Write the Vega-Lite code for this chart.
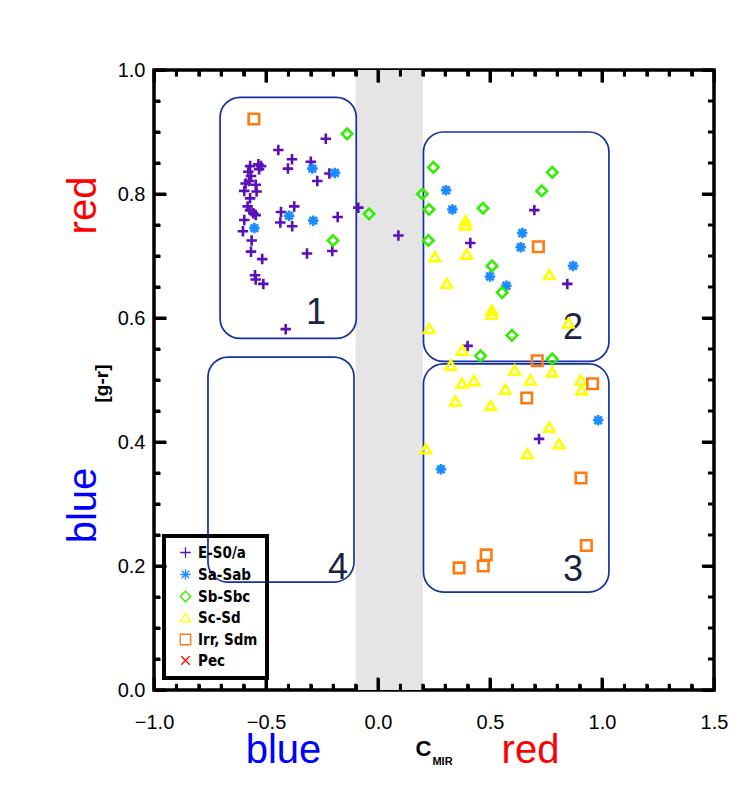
{
  "$schema": "https://vega.github.io/schema/vega-lite/v6.json",
  "width": 560,
  "height": 620,
  "autosize": {"type": "none"},
  "padding": {"left": 154, "top": 70, "right": 39, "bottom": 97},
  "background": "white",
  "config": {
    "view": {"stroke": "black", "strokeWidth": 3.5},
    "axis": {"grid": false, "labelColor": "black", "titleColor": "black", "titleAlign": "center", "titleBaseline": "alphabetic", "titleFont": "Liberation Sans", "titleFontWeight": "normal", "labelFont": "Liberation Sans", "labelFlush": false, "labelOverlap": false},
    "legend": {"strokeColor": "black", "strokeWidth": 4}
  },
  "datasets": {
    "xticks": [
      {"v": -1, "kind": "major"}, {"v": -0.9, "kind": "minor"}, {"v": -0.8, "kind": "minor"}, {"v": -0.7, "kind": "minor"}, {"v": -0.6, "kind": "minor"},
      {"v": -0.5, "kind": "major"}, {"v": -0.4, "kind": "minor"}, {"v": -0.3, "kind": "minor"}, {"v": -0.2, "kind": "minor"}, {"v": -0.1, "kind": "minor"},
      {"v": 0, "kind": "major"}, {"v": 0.1, "kind": "minor"}, {"v": 0.2, "kind": "minor"}, {"v": 0.3, "kind": "minor"}, {"v": 0.4, "kind": "minor"},
      {"v": 0.5, "kind": "major"}, {"v": 0.6, "kind": "minor"}, {"v": 0.7, "kind": "minor"}, {"v": 0.8, "kind": "minor"}, {"v": 0.9, "kind": "minor"},
      {"v": 1, "kind": "major"}, {"v": 1.1, "kind": "minor"}, {"v": 1.2, "kind": "minor"}, {"v": 1.3, "kind": "minor"}, {"v": 1.4, "kind": "minor"},
      {"v": 1.5, "kind": "major"}
    ],
    "yticks": [
      {"v": 0, "kind": "major"}, {"v": 0.05, "kind": "minor"}, {"v": 0.1, "kind": "minor"}, {"v": 0.15, "kind": "minor"},
      {"v": 0.2, "kind": "major"}, {"v": 0.25, "kind": "minor"}, {"v": 0.3, "kind": "minor"}, {"v": 0.35, "kind": "minor"},
      {"v": 0.4, "kind": "major"}, {"v": 0.45, "kind": "minor"}, {"v": 0.5, "kind": "minor"}, {"v": 0.55, "kind": "minor"},
      {"v": 0.6, "kind": "major"}, {"v": 0.65, "kind": "minor"}, {"v": 0.7, "kind": "minor"}, {"v": 0.75, "kind": "minor"},
      {"v": 0.8, "kind": "major"}, {"v": 0.85, "kind": "minor"}, {"v": 0.9, "kind": "minor"}, {"v": 0.95, "kind": "minor"},
      {"v": 1, "kind": "major"}
    ]
  },
  "resolve": {"axis": {"x": "independent", "y": "independent"}},
  "layer": [
    {
      "data": {"values": [{"x0": -0.1, "x1": 0.2, "y0": 0, "y1": 1}]},
      "mark": {"type": "rect", "color": "#e5e5e5"},
      "encoding": {
        "x": {"field": "x0", "type": "quantitative", "scale": {"domain": [-1, 1.5], "nice": false, "zero": false},
          "axis": {"orient": "bottom", "values": [-1, -0.5, 0, 0.5, 1, 1.5], "offset": -12, "ticks": true, "tickSize": 12, "tickWidth": 3, "tickColor": "#000000", "domain": false, "zindex": 1,
            "labelExpr": "replace(format(datum.value, '.1f'), '-', '−')", "labelFontSize": 20, "labelPadding": 22,
            "title": "C", "titleFontSize": 22, "titleFontWeight": "bold", "titleX": 269, "titleY": 77, "titleAngle": 0}},
        "x2": {"field": "x1"},
        "y": {"field": "y0", "type": "quantitative", "scale": {"domain": [0, 1], "nice": false, "zero": false},
          "axis": {"orient": "left", "values": [0, 0.2, 0.4, 0.6, 0.8, 1], "offset": -12, "ticks": true, "tickSize": 12, "tickWidth": 3, "tickColor": "#000000", "domain": false, "zindex": 1,
            "labelExpr": "format(datum.value, '.1f')", "labelFontSize": 20, "labelPadding": 9,
            "title": "[g-r]", "titleFontSize": 19, "titleFontWeight": "bold", "titleAngle": -90, "titleX": -59, "titleY": 313}},
        "y2": {"field": "y1"}
      }
    },
    {
      "data": {"name": "xticks"},
      "transform": [{"filter": "datum.kind == 'major'"}],
      "mark": {"type": "rule", "color": "#000000", "strokeWidth": 3},
      "encoding": {"x": {"field": "v", "type": "quantitative", "axis": null}, "y": {"datum": 0, "type": "quantitative", "axis": null}, "y2": {"datum": 0.02}}
    },
    {
      "data": {"name": "xticks"},
      "transform": [{"filter": "datum.kind == 'minor'"}],
      "mark": {"type": "rule", "color": "#000000", "strokeWidth": 3},
      "encoding": {"x": {"field": "v", "type": "quantitative", "axis": null}, "y": {"datum": 0, "type": "quantitative", "axis": null}, "y2": {"datum": 0.01}}
    },
    {
      "data": {"name": "xticks"},
      "transform": [{"filter": "datum.kind == 'major'"}],
      "mark": {"type": "rule", "color": "#000000", "strokeWidth": 3},
      "encoding": {"x": {"field": "v", "type": "quantitative", "axis": null}, "y": {"datum": 1, "type": "quantitative", "axis": null}, "y2": {"datum": 0.98}}
    },
    {
      "data": {"name": "xticks"},
      "transform": [{"filter": "datum.kind == 'minor'"}],
      "mark": {"type": "rule", "color": "#000000", "strokeWidth": 3},
      "encoding": {"x": {"field": "v", "type": "quantitative", "axis": null}, "y": {"datum": 1, "type": "quantitative", "axis": null}, "y2": {"datum": 0.99}}
    },
    {
      "data": {"name": "yticks"},
      "transform": [{"filter": "datum.kind == 'major'"}],
      "mark": {"type": "rule", "color": "#000000", "strokeWidth": 3},
      "encoding": {"y": {"field": "v", "type": "quantitative", "axis": null}, "x": {"datum": -1, "type": "quantitative", "axis": null}, "x2": {"datum": -0.946}}
    },
    {
      "data": {"name": "yticks"},
      "transform": [{"filter": "datum.kind == 'minor'"}],
      "mark": {"type": "rule", "color": "#000000", "strokeWidth": 3},
      "encoding": {"y": {"field": "v", "type": "quantitative", "axis": null}, "x": {"datum": -1, "type": "quantitative", "axis": null}, "x2": {"datum": -0.973}}
    },
    {
      "data": {"name": "yticks"},
      "transform": [{"filter": "datum.kind == 'major'"}],
      "mark": {"type": "rule", "color": "#000000", "strokeWidth": 3},
      "encoding": {"y": {"field": "v", "type": "quantitative", "axis": null}, "x": {"datum": 1.5, "type": "quantitative", "axis": null}, "x2": {"datum": 1.446}}
    },
    {
      "data": {"name": "yticks"},
      "transform": [{"filter": "datum.kind == 'minor'"}],
      "mark": {"type": "rule", "color": "#000000", "strokeWidth": 3},
      "encoding": {"y": {"field": "v", "type": "quantitative", "axis": null}, "x": {"datum": 1.5, "type": "quantitative", "axis": null}, "x2": {"datum": 1.473}}
    },
    {
      "data": {"values": [
        {"box": 1, "x0": -0.705, "x1": -0.097, "y0": 0.567, "y1": 0.956},
        {"box": 2, "x0": 0.203, "x1": 1.031, "y0": 0.53, "y1": 0.9},
        {"box": 3, "x0": 0.203, "x1": 1.031, "y0": 0.158, "y1": 0.526},
        {"box": 4, "x0": -0.759, "x1": -0.107, "y0": 0.174, "y1": 0.537}
      ]},
      "mark": {"type": "rect", "filled": false, "color": "#1531a0", "strokeWidth": 1.7, "cornerRadius": 20},
      "encoding": {
        "x": {"field": "x0", "type": "quantitative", "scale": {"domain": [-1, 1.5], "nice": false, "zero": false},
          "axis": {"orient": "top", "values": [-1, -0.5, 0, 0.5, 1, 1.5], "offset": -12, "ticks": true, "tickSize": 12, "tickWidth": 3, "tickColor": "#000000", "labels": false, "domain": false, "zindex": 1,
            "title": "blue", "titleFontSize": 40, "titleFontWeight": "normal", "titleColor": "#0000ff", "titleX": 129, "titleY": 680, "titleAngle": 0}},
        "x2": {"field": "x1"},
        "y": {"field": "y0", "type": "quantitative", "scale": {"domain": [0, 1], "nice": false, "zero": false},
          "axis": {"orient": "right", "values": [0, 0.2, 0.4, 0.6, 0.8, 1], "offset": -12, "ticks": true, "tickSize": 12, "tickWidth": 3, "tickColor": "#000000", "labels": false, "domain": false, "zindex": 1,
            "title": "red", "titleFontSize": 40, "titleFontWeight": "normal", "titleColor": "#ff0000", "titleAngle": -90, "titleX": -607, "titleY": 135}},
        "y2": {"field": "y1"}
      }
    },
    {
      "data": {"values": [
        {"n": "1", "x": -0.277, "y": 0.608},
        {"n": "2", "x": 0.871, "y": 0.584},
        {"n": "3", "x": 0.871, "y": 0.194},
        {"n": "4", "x": -0.178, "y": 0.197}
      ]},
      "mark": {"type": "text", "font": "Liberation Sans", "fontSize": 36, "color": "#1b2440", "baseline": "middle", "align": "center"},
      "encoding": {
        "text": {"field": "n"},
        "x": {"field": "x", "type": "quantitative", "scale": {"domain": [-1, 1.5], "nice": false, "zero": false},
          "axis": {"orient": "bottom", "values": [-0.9, -0.8, -0.7, -0.6, -0.4, -0.3, -0.2, -0.1, 0.1, 0.2, 0.3, 0.4, 0.6, 0.7, 0.8, 0.9, 1.1, 1.2, 1.3, 1.4], "offset": -6, "ticks": true, "tickSize": 6, "tickWidth": 3, "tickColor": "#000000", "labels": false, "domain": false, "zindex": 1,
            "title": "red", "titleFontSize": 40, "titleFontWeight": "normal", "titleColor": "#ff0000", "titleX": 376, "titleY": 78, "titleAngle": 0}},
        "y": {"field": "y", "type": "quantitative", "scale": {"domain": [0, 1], "nice": false, "zero": false},
          "axis": {"orient": "left", "values": [0.05, 0.1, 0.15, 0.25, 0.3, 0.35, 0.45, 0.5, 0.55, 0.65, 0.7, 0.75, 0.85, 0.9, 0.95], "offset": -6, "ticks": true, "tickSize": 6, "tickWidth": 3, "tickColor": "#000000", "labels": false, "domain": false, "zindex": 1,
            "title": "blue", "titleFontSize": 40, "titleFontWeight": "normal", "titleColor": "#0000ff", "titleAngle": -90, "titleX": -65, "titleY": 435}}
      }
    },
    {
      "data": {"values": [
        {"type": "E-S0/a", "c": -0.233, "g": 0.889},
        {"type": "E-S0/a", "c": -0.445, "g": 0.871},
        {"type": "E-S0/a", "c": -0.384, "g": 0.856},
        {"type": "E-S0/a", "c": -0.402, "g": 0.841},
        {"type": "E-S0/a", "c": -0.3, "g": 0.852},
        {"type": "E-S0/a", "c": -0.217, "g": 0.833},
        {"type": "E-S0/a", "c": -0.271, "g": 0.821},
        {"type": "E-S0/a", "c": -0.571, "g": 0.845},
        {"type": "E-S0/a", "c": -0.534, "g": 0.848},
        {"type": "E-S0/a", "c": -0.522, "g": 0.845},
        {"type": "E-S0/a", "c": -0.531, "g": 0.84},
        {"type": "E-S0/a", "c": -0.579, "g": 0.836},
        {"type": "E-S0/a", "c": -0.567, "g": 0.829},
        {"type": "E-S0/a", "c": -0.576, "g": 0.821},
        {"type": "E-S0/a", "c": -0.591, "g": 0.817},
        {"type": "E-S0/a", "c": -0.546, "g": 0.815},
        {"type": "E-S0/a", "c": -0.597, "g": 0.805},
        {"type": "E-S0/a", "c": -0.542, "g": 0.804},
        {"type": "E-S0/a", "c": -0.571, "g": 0.793},
        {"type": "E-S0/a", "c": -0.582, "g": 0.78},
        {"type": "E-S0/a", "c": -0.571, "g": 0.774},
        {"type": "E-S0/a", "c": -0.557, "g": 0.769},
        {"type": "E-S0/a", "c": -0.546, "g": 0.766},
        {"type": "E-S0/a", "c": -0.597, "g": 0.758},
        {"type": "E-S0/a", "c": -0.603, "g": 0.74},
        {"type": "E-S0/a", "c": -0.564, "g": 0.725},
        {"type": "E-S0/a", "c": -0.567, "g": 0.707},
        {"type": "E-S0/a", "c": -0.517, "g": 0.695},
        {"type": "E-S0/a", "c": -0.549, "g": 0.669},
        {"type": "E-S0/a", "c": -0.546, "g": 0.662},
        {"type": "E-S0/a", "c": -0.512, "g": 0.655},
        {"type": "E-S0/a", "c": -0.374, "g": 0.78},
        {"type": "E-S0/a", "c": -0.433, "g": 0.771},
        {"type": "E-S0/a", "c": -0.436, "g": 0.754},
        {"type": "E-S0/a", "c": -0.383, "g": 0.748},
        {"type": "E-S0/a", "c": -0.18, "g": 0.763},
        {"type": "E-S0/a", "c": -0.204, "g": 0.708},
        {"type": "E-S0/a", "c": -0.317, "g": 0.704},
        {"type": "E-S0/a", "c": -0.412, "g": 0.582},
        {"type": "E-S0/a", "c": -0.088, "g": 0.778},
        {"type": "E-S0/a", "c": 0.091, "g": 0.733},
        {"type": "E-S0/a", "c": 0.698, "g": 0.774},
        {"type": "E-S0/a", "c": 0.412, "g": 0.721},
        {"type": "E-S0/a", "c": 0.845, "g": 0.655},
        {"type": "E-S0/a", "c": 0.4, "g": 0.555},
        {"type": "E-S0/a", "c": 0.719, "g": 0.405},
        {"type": "Sa-Sab", "c": -0.293, "g": 0.841},
        {"type": "Sa-Sab", "c": -0.192, "g": 0.834},
        {"type": "Sa-Sab", "c": -0.552, "g": 0.745},
        {"type": "Sa-Sab", "c": -0.397, "g": 0.765},
        {"type": "Sa-Sab", "c": -0.289, "g": 0.757},
        {"type": "Sa-Sab", "c": 0.304, "g": 0.806},
        {"type": "Sa-Sab", "c": 0.332, "g": 0.775},
        {"type": "Sa-Sab", "c": 0.644, "g": 0.737},
        {"type": "Sa-Sab", "c": 0.637, "g": 0.714},
        {"type": "Sa-Sab", "c": 0.871, "g": 0.684},
        {"type": "Sa-Sab", "c": 0.5, "g": 0.667},
        {"type": "Sa-Sab", "c": 0.573, "g": 0.652},
        {"type": "Sa-Sab", "c": 0.983, "g": 0.435},
        {"type": "Sa-Sab", "c": 0.281, "g": 0.356},
        {"type": "Sb-Sbc", "c": -0.138, "g": 0.897},
        {"type": "Sb-Sbc", "c": -0.201, "g": 0.725},
        {"type": "Sb-Sbc", "c": -0.04, "g": 0.768},
        {"type": "Sb-Sbc", "c": 0.198, "g": 0.8},
        {"type": "Sb-Sbc", "c": 0.247, "g": 0.843},
        {"type": "Sb-Sbc", "c": 0.228, "g": 0.775},
        {"type": "Sb-Sbc", "c": 0.225, "g": 0.725},
        {"type": "Sb-Sbc", "c": 0.469, "g": 0.777},
        {"type": "Sb-Sbc", "c": 0.778, "g": 0.835},
        {"type": "Sb-Sbc", "c": 0.731, "g": 0.805},
        {"type": "Sb-Sbc", "c": 0.509, "g": 0.684},
        {"type": "Sb-Sbc", "c": 0.554, "g": 0.641},
        {"type": "Sb-Sbc", "c": 0.598, "g": 0.572},
        {"type": "Sb-Sbc", "c": 0.458, "g": 0.539},
        {"type": "Sb-Sbc", "c": 0.778, "g": 0.534},
        {"type": "Sc-Sd", "c": 0.39, "g": 0.757},
        {"type": "Sc-Sd", "c": 0.39, "g": 0.75},
        {"type": "Sc-Sd", "c": 0.254, "g": 0.699},
        {"type": "Sc-Sd", "c": 0.396, "g": 0.703},
        {"type": "Sc-Sd", "c": 0.765, "g": 0.67},
        {"type": "Sc-Sd", "c": 0.307, "g": 0.656},
        {"type": "Sc-Sd", "c": 0.508, "g": 0.613},
        {"type": "Sc-Sd", "c": 0.508, "g": 0.606},
        {"type": "Sc-Sd", "c": 0.229, "g": 0.583},
        {"type": "Sc-Sd", "c": 0.85, "g": 0.592},
        {"type": "Sc-Sd", "c": 0.376, "g": 0.548},
        {"type": "Sc-Sd", "c": 0.325, "g": 0.524},
        {"type": "Sc-Sd", "c": 0.61, "g": 0.516},
        {"type": "Sc-Sd", "c": 0.778, "g": 0.513},
        {"type": "Sc-Sd", "c": 0.374, "g": 0.495},
        {"type": "Sc-Sd", "c": 0.429, "g": 0.499},
        {"type": "Sc-Sd", "c": 0.68, "g": 0.5},
        {"type": "Sc-Sd", "c": 0.905, "g": 0.5},
        {"type": "Sc-Sd", "c": 0.568, "g": 0.485},
        {"type": "Sc-Sd", "c": 0.909, "g": 0.484},
        {"type": "Sc-Sd", "c": 0.345, "g": 0.466},
        {"type": "Sc-Sd", "c": 0.503, "g": 0.459},
        {"type": "Sc-Sd", "c": 0.765, "g": 0.424},
        {"type": "Sc-Sd", "c": 0.809, "g": 0.397},
        {"type": "Sc-Sd", "c": 0.214, "g": 0.389},
        {"type": "Sc-Sd", "c": 0.667, "g": 0.381},
        {"type": "Irr, Sdm", "c": -0.554, "g": 0.921},
        {"type": "Irr, Sdm", "c": 0.716, "g": 0.715},
        {"type": "Irr, Sdm", "c": 0.711, "g": 0.531},
        {"type": "Irr, Sdm", "c": 0.958, "g": 0.494},
        {"type": "Irr, Sdm", "c": 0.664, "g": 0.471},
        {"type": "Irr, Sdm", "c": 0.906, "g": 0.342},
        {"type": "Irr, Sdm", "c": 0.93, "g": 0.233},
        {"type": "Irr, Sdm", "c": 0.483, "g": 0.218},
        {"type": "Irr, Sdm", "c": 0.47, "g": 0.2},
        {"type": "Irr, Sdm", "c": 0.362, "g": 0.197}
      ]},
      "mark": {"type": "point", "filled": false, "strokeWidth": 2.6, "opacity": 1},
      "encoding": {
        "x": {"field": "c", "type": "quantitative", "scale": {"domain": [-1, 1.5], "nice": false, "zero": false},
          "axis": {"orient": "top", "values": [-0.9, -0.8, -0.7, -0.6, -0.4, -0.3, -0.2, -0.1, 0.1, 0.2, 0.3, 0.4, 0.6, 0.7, 0.8, 0.9, 1.1, 1.2, 1.3, 1.4], "offset": -6, "ticks": true, "tickSize": 6, "tickWidth": 3, "tickColor": "#000000", "labels": false, "domain": false, "zindex": 1,
            "title": "MIR", "titleFontSize": 11, "titleFontWeight": "bold", "titleX": 288, "titleY": 688, "titleAngle": 0}},
        "y": {"field": "g", "type": "quantitative", "scale": {"domain": [0, 1], "nice": false, "zero": false}, "axis": null},
        "color": {"field": "type", "type": "nominal",
          "scale": {"domain": ["E-S0/a", "Sa-Sab", "Sb-Sbc", "Sc-Sd", "Irr, Sdm", "Pec"], "range": ["#5a10b8", "#1a8cff", "#33ee00", "#ffff00", "#ff7a10", "#ff0000"]},
          "legend": {"orient": "none", "legendX": 10, "legendY": 466, "title": null, "strokeColor": "black", "padding": 9, "labelFont": "DejaVu Sans Condensed, DejaVu Sans", "labelFontSize": 15, "labelFontWeight": "bold", "symbolSize": 100, "symbolStrokeWidth": 1.3, "rowPadding": 5, "symbolOffset": 5, "labelOffset": 5,
            "encode": {"labels": {"update": {"fill": {"scale": "color", "field": "value"}}}}}},
        "shape": {"field": "type", "type": "nominal",
          "scale": {"domain": ["E-S0/a", "Sa-Sab", "Sb-Sbc", "Sc-Sd", "Irr, Sdm", "Pec"], "range": ["M-1,0L1,0M0,-1L0,1", "M-1,0L1,0M0,-1L0,1M-0.72,-0.72L0.72,0.72M-0.72,0.72L0.72,-0.72", "diamond", "M0,-0.85L1,0.85L-1,0.85Z", "square", "M-0.8,-0.8L0.8,0.8M-0.8,0.8L0.8,-0.8"]}},
        "size": {"field": "type", "type": "nominal", "legend": null,
          "scale": {"domain": ["E-S0/a", "Sa-Sab", "Sb-Sbc", "Sc-Sd", "Irr, Sdm", "Pec"], "range": [110, 110, 95, 130, 38, 100]}}
      }
    }
  ]
}
